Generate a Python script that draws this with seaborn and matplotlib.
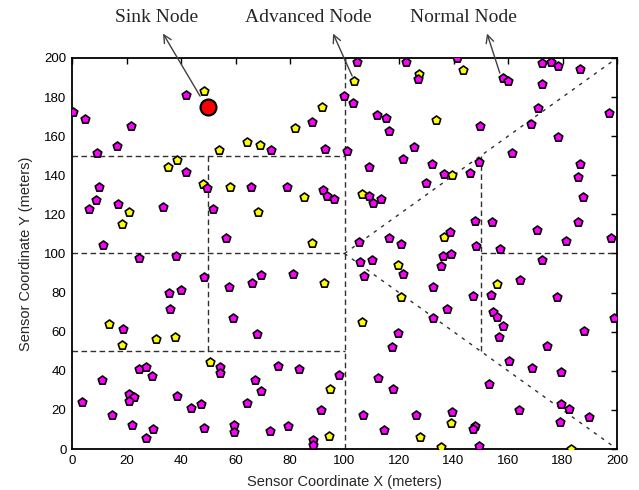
import matplotlib
matplotlib.use("Agg")
import matplotlib.pyplot as plt
import seaborn as sns
import pandas as pd

# ---------------- data ----------------
normal_x = [0.2, 4.8, 21.7, 41.8, 16.6, 9.3, 41.8, 10, 88, 73, 92.8, 100.8, 99.9,
            49.4, 65.7, 78.8, 92.2, 8.8, 6.4, 17, 33.5, 11.3, 24.7, 38.2, 48.6, 35.7, 39.9, 36,
            93.5, 96.2, 51.6, 56.5, 57.6, 66.2, 69.4, 81, 59.2,
            18.8, 24.7, 27, 29.5, 10.9, 3.6, 21, 22.8, 21, 38.4, 43.7, 47.3, 14.6, 21.9, 29.8, 27, 48.6,
            67.8, 54.3, 54.3, 75.5, 83.3, 98, 67.2, 69.4, 64.1, 91.3, 59.6, 59.6, 72.7, 79.4, 88.6, 88.6,
            104.5, 122.5, 141.2, 127.1, 103, 111.8, 115.1, 149.7, 116.4, 125.6, 121.6, 109.1, 132.2,
            136.6, 146.1, 149.4, 129.9,
            109.1, 110.6, 113.4, 147.9, 138.7, 105.4, 116.4, 120.6, 148.3, 136, 139.1, 105.7, 110,
            135.4, 121.6, 107.3, 132.6, 147.3, 137.5, 132.6,
            119.8, 117.3, 112.2, 117.9, 153, 106.7, 126.2, 139.6, 114.6, 147.9, 147, 149.4,
            172.6, 175.8, 178.5, 186.4, 158.3, 160.1, 172.4, 170.9, 197.2, 168.4, 178.2, 161.6, 186.4, 185.8,
            187.6, 154, 170.5, 185.6, 181.2, 197.7, 157.1, 172.4, 164.4, 153.8, 177.8, 154.4, 156.1, 198.9,
            158, 156.8, 188, 174.2, 160.5, 168.9, 179.4, 179.3, 182.4, 164, 189.7, 179.1]
normal_y = [172.6, 168.6, 165.2, 181.1, 155.1, 151.2, 141.8, 133.9, 167.1, 152.9, 153.5, 152.4, 180.6,
            133.3, 134.2, 134.2, 132.5, 127.2, 122.8, 125.3, 123.9, 104.3, 97.5, 98.9, 88.1, 79.6, 81.3, 71.5,
            129.6, 127.7, 122.6, 107.8, 82.7, 84.8, 89, 89.4, 66.8,
            61.4, 40.9, 42.1, 37.3, 35.3, 23.9, 28.1, 26.4, 24.7, 27.3, 20.8, 23.2, 17.4, 12.1, 10.4, 5.8, 10.6,
            58.7, 41.8, 39, 42.6, 40.9, 37.9, 35.3, 29.8, 23.3, 19.9, 12.3, 8.5, 9.4, 11.9, 4.8, 2.3,
            198.1, 198.1, 199.8, 189.1, 176.8, 170.8, 169.1, 165.2, 162.8, 154.6, 148.3, 144.1, 145.8,
            140.7, 141, 147, 135.9,
            129.6, 125.7, 127.7, 116.8, 111.2, 106, 107.7, 104.7, 103.8, 98.9, 99.6, 95.5, 96.7,
            93.6, 89.4, 88.6, 83, 78.3, 71.6, 66.8,
            59.5, 52, 36.2, 30.5, 33.2, 17.4, 17.4, 18.8, 9.7, 11.8, 10, 1.5,
            197.6, 197.8, 195.9, 194.2, 189.6, 188.4, 186.7, 174.6, 171.7, 166.2, 159.4, 151.2, 145.8, 139.3,
            129.1, 116, 112, 116, 106.4, 107.8, 102.3, 96.7, 86.4, 78.8, 77.9, 69.9, 67.7, 66.8,
            63.1, 57.1, 60.4, 52.7, 45, 41.6, 39.2, 23, 20.5, 19.9, 16.2, 14]

advanced_x = [48.6, 35.3, 38.4, 48.2, 91.6, 81.8, 64.3, 69, 53.9, 58, 21, 18.2, 85.2, 68.4, 88,
              92.6, 13.7, 18.2, 30.7, 37.8, 50.5, 94.8, 94.3,
              143.6, 127.3, 103.5, 133.6, 139.6, 106.3, 136.6, 119.8, 120.7, 106.3, 139, 127.7,
              135.4, 156.1, 183]
advanced_y = [183, 144.1, 147.8, 135.5, 175.1, 164, 157, 155.7, 152.9, 134.2, 121.4, 115.2, 129.1,
              121.1, 105.5, 85.1, 63.8, 53.2, 56.1, 57.1, 44.5, 30.5, 6.8,
              193.9, 191.7, 188.4, 168.3, 140.2, 130.4, 108.6, 94.1, 77.6, 64.8, 13.5, 6.3,
              1.2, 84.2, 0]

sink_x = [50]
sink_y = [175]

tick_values = list(range(0, 201, 20))
xlabel = "Sensor Coordinate X (meters)"
ylabel = "Sensor Coordinate Y (meters)"
labels = ["Sink Node", "Advanced Node", "Normal Node"]

# ---------------- figure ----------------
sns.set_style("white")
plt.rcParams["font.family"] = ["Liberation Sans", "DejaVu Sans"]

fig = plt.figure(figsize=(6.39, 4.90), dpi=100)
ax = fig.add_axes([72 / 639, 41 / 490, 545 / 639, 391 / 490])

# partition lines
dash_l = dict(color="#303030", lw=1.0, dashes=(4, 2.5))
dash_d = dict(color="#303030", lw=1.0, dashes=(2.5, 4))
ax.plot([100, 100], [0, 200], **dash_l)
for yv in [50, 100, 150]:
    ax.plot([0, 100], [yv, yv], **dash_l)
ax.plot([50, 50], [50, 150], **dash_l)
ax.plot([100, 200], [100, 200], **dash_d)
ax.plot([100, 200], [100, 0], **dash_d)
ax.plot([150, 150], [50, 150], **dash_l)
ax.plot([150, 200], [100, 100], **dash_l)

adv = pd.DataFrame({"x": advanced_x, "y": advanced_y})
nor = pd.DataFrame({"x": normal_x, "y": normal_y})
sns.scatterplot(data=adv, x="x", y="y", ax=ax, marker="p", s=42, color="#ffff00",
                edgecolor="black", linewidth=1.2, zorder=3)
sns.scatterplot(data=nor, x="x", y="y", ax=ax, marker="p", s=42, color="#ff00ff",
                edgecolor="black", linewidth=1.2, zorder=3)
sns.scatterplot(x=sink_x, y=sink_y, ax=ax, marker="o", s=130, color="#ff0000",
                edgecolor="black", linewidth=1.6, zorder=4)

ax.set_xlim(0, 200)
ax.set_ylim(0, 200)
ax.set_xticks(tick_values)
ax.set_yticks(tick_values)
ax.tick_params(direction="in", length=4, width=1, top=True, right=True,
               labelsize=9.5, colors="black", pad=4)
for sp in ax.spines.values():
    sp.set_linewidth(1.3)
    sp.set_color("black")
ax.set_xlabel(xlabel, fontsize=10.5, labelpad=6)
ax.set_ylabel(ylabel, fontsize=10.5, labelpad=8)

# annotations (arrow heads point to the labels)
serif = ["Liberation Serif", "DejaVu Serif"]
ann = [
    (labels[0], (31.2, 220.5), (33.4, 212.5), (47.0, 180.5)),
    (labels[1], (86.6, 220.5), (95.8, 212.5), (102.8, 190.8)),
    (labels[2], (143.5, 220.5), (152.3, 212.5), (157.0, 192.3)),
]
for text, tpos, head, tail in ann:
    ax.text(tpos[0], tpos[1], text, ha="center", va="center", fontsize=14,
            family=serif, clip_on=False)
    ax.annotate("", xy=head, xytext=tail, xycoords="data", textcoords="data",
                arrowprops=dict(arrowstyle="->", color="#404040", lw=1.0,
                                shrinkA=0, shrinkB=0, mutation_scale=14),
                annotation_clip=False)

fig.savefig("out.png", dpi=100)
